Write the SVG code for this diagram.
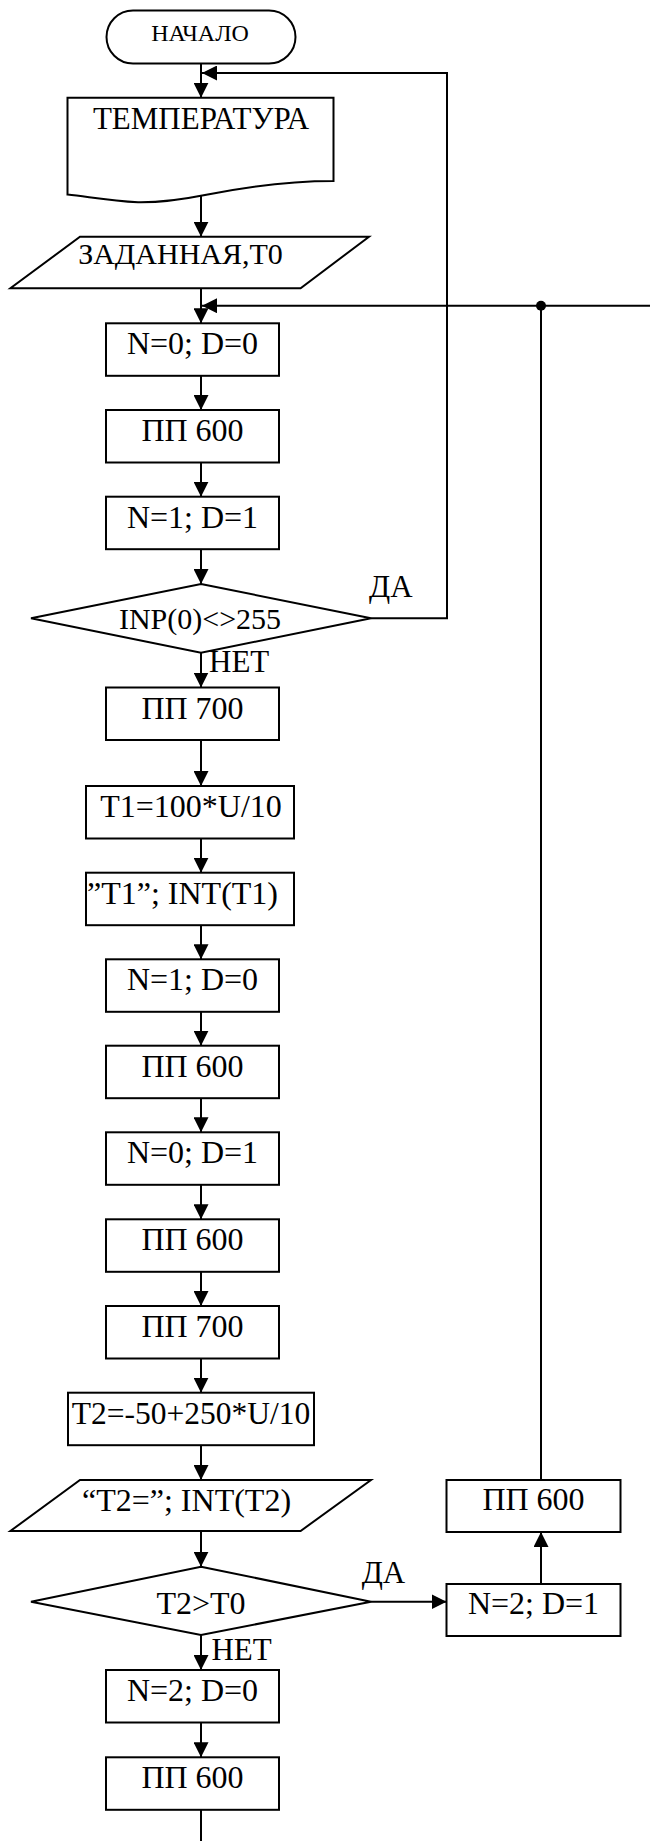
<svg xmlns="http://www.w3.org/2000/svg" width="650" height="1841" viewBox="0 0 650 1841">
<style>
.s{fill:#fff;stroke:#000;stroke-width:2}
.c{fill:none;stroke:#000;stroke-width:2}
.t{font-family:"Liberation Serif","Times New Roman",serif;font-size:32px;fill:#000;text-anchor:middle}
.l{font-family:"Liberation Serif","Times New Roman",serif;font-size:31px;fill:#000}
</style>
<defs>
<marker id="a" markerUnits="userSpaceOnUse" markerWidth="15" markerHeight="15" refX="15" refY="7.5" orient="auto">
<path d="M0,0 L15,7.5 L0,15 z" fill="#000"/>
</marker>
</defs>
<rect width="650" height="1841" fill="#fff"/>
<g id="connectors">
<line class="c" x1="201" y1="63.5" x2="201" y2="97.7" marker-end="url(#a)"/>
<polyline class="c" points="371,618.3 447,618.3 447,73 202,73" marker-end="url(#a)"/>
<line class="c" x1="201" y1="195" x2="201" y2="236.7" marker-end="url(#a)"/>
<line class="c" x1="201" y1="288.3" x2="201" y2="323.3" marker-end="url(#a)"/>
<line class="c" x1="650" y1="305.7" x2="202" y2="305.7" marker-end="url(#a)"/>
<circle cx="541" cy="305.7" r="5" fill="#000"/>
<line class="c" x1="541" y1="305.7" x2="541" y2="1480"/>
<line class="c" x1="201" y1="375.8" x2="201" y2="410" marker-end="url(#a)"/>
<line class="c" x1="201" y1="462.5" x2="201" y2="496.7" marker-end="url(#a)"/>
<line class="c" x1="201" y1="549.2" x2="201" y2="584" marker-end="url(#a)"/>
<line class="c" x1="201" y1="652.7" x2="201" y2="687.5" marker-end="url(#a)"/>
<line class="c" x1="201" y1="740" x2="201" y2="786" marker-end="url(#a)"/>
<line class="c" x1="201" y1="838.5" x2="201" y2="872.7" marker-end="url(#a)"/>
<line class="c" x1="201" y1="925.2" x2="201" y2="959.3" marker-end="url(#a)"/>
<line class="c" x1="201" y1="1011.8" x2="201" y2="1045.7" marker-end="url(#a)"/>
<line class="c" x1="201" y1="1098.2" x2="201" y2="1132.3" marker-end="url(#a)"/>
<line class="c" x1="201" y1="1184.8" x2="201" y2="1219.3" marker-end="url(#a)"/>
<line class="c" x1="201" y1="1271.8" x2="201" y2="1306" marker-end="url(#a)"/>
<line class="c" x1="201" y1="1358.5" x2="201" y2="1392.7" marker-end="url(#a)"/>
<line class="c" x1="201" y1="1445.2" x2="201" y2="1480" marker-end="url(#a)"/>
<line class="c" x1="201" y1="1531" x2="201" y2="1566.7" marker-end="url(#a)"/>
<line class="c" x1="371" y1="1601.7" x2="446.5" y2="1601.7" marker-end="url(#a)"/>
<line class="c" x1="541" y1="1584" x2="541" y2="1532" marker-end="url(#a)"/>
<line class="c" x1="201" y1="1635" x2="201" y2="1670" marker-end="url(#a)"/>
<line class="c" x1="201" y1="1722.5" x2="201" y2="1757.3" marker-end="url(#a)"/>
<line class="c" x1="201" y1="1809.8" x2="201" y2="1841"/>
<text class="l" x="369" y="596.7">ДА</text>
<text class="l" x="209" y="671.7">НЕТ</text>
<text class="l" x="361.7" y="1583.3">ДА</text>
<text class="l" x="211.4" y="1660">НЕТ</text>
</g>
<g id="start">
<rect class="s" x="106.5" y="10.5" width="189" height="53" rx="26.5"/>
<text class="t" x="200" y="40.5" style="font-size:24px">НАЧАЛО</text>
</g>
<g id="temp">
<path class="s" d="M67.5,97.7 H333.5 V181 C290,181 250,186 205,195 C175,201 152,202.5 138,202.3 C110,201 90,197 67.5,194.5 Z"/>
<text class="t" x="201" y="128.5" style="font-size:31px">ТЕМПЕРАТУРА</text>
</g>
<g id="setT0">
<polygon class="s" points="80,236.7 369,236.7 300.6,288.3 10.4,288.3"/>
<text class="t" x="180.5" y="263.5" style="font-size:30px">ЗАДАННАЯ,Т0</text>
</g>
<g id="b1"><rect class="s" x="106" y="323.3" width="173" height="52.5"/><text class="t" x="192.5" y="354.3">N=0; D=0</text></g>
<g id="b2"><rect class="s" x="106" y="410" width="173" height="52.5"/><text class="t" x="192.5" y="441">ПП 600</text></g>
<g id="b3"><rect class="s" x="106" y="496.7" width="173" height="52.5"/><text class="t" x="192.5" y="527.7">N=1; D=1</text></g>
<g id="d1"><polygon class="s" points="201,584 371,618.3 201,652.7 31,618.3"/><text class="t" x="200" y="628.8" style="font-size:30px">INP(0)&lt;&gt;255</text></g>
<g id="b4"><rect class="s" x="106" y="687.5" width="173" height="52.5"/><text class="t" x="192.5" y="718.5">ПП 700</text></g>
<g id="b5"><rect class="s" x="86" y="786" width="208" height="52.5"/><text class="t" x="191" y="817">T1=100*U/10</text></g>
<g id="b6"><rect class="s" x="86" y="872.7" width="208" height="52.5"/><text class="t" x="87" y="903.7" style="text-anchor:start">”T1”; INT(T1)</text></g>
<g id="b7"><rect class="s" x="106" y="959.3" width="173" height="52.5"/><text class="t" x="192.5" y="990.3">N=1; D=0</text></g>
<g id="b8"><rect class="s" x="106" y="1045.7" width="173" height="52.5"/><text class="t" x="192.5" y="1076.7">ПП 600</text></g>
<g id="b9"><rect class="s" x="106" y="1132.3" width="173" height="52.5"/><text class="t" x="192.5" y="1163.3">N=0; D=1</text></g>
<g id="b10"><rect class="s" x="106" y="1219.3" width="173" height="52.5"/><text class="t" x="192.5" y="1250.3">ПП 600</text></g>
<g id="b11"><rect class="s" x="106" y="1306" width="173" height="52.5"/><text class="t" x="192.5" y="1337">ПП 700</text></g>
<g id="b12"><rect class="s" x="68" y="1392.7" width="246" height="52.5"/><text class="t" x="191" y="1423.7" style="font-size:31.5px">T2=-50+250*U/10</text></g>
<g id="outT2">
<polygon class="s" points="80,1480 371,1480 300.6,1531 10.4,1531"/>
<text class="t" x="186.5" y="1511">“T2=”; INT(T2)</text>
</g>
<g id="d2"><polygon class="s" points="201,1566.7 371,1601.7 201,1635 31,1601.7"/><text class="t" x="201" y="1613.5">T2&gt;T0</text></g>
<g id="r1"><rect class="s" x="446.5" y="1584" width="174" height="52"/><text class="t" x="533.5" y="1614">N=2; D=1</text></g>
<g id="r2"><rect class="s" x="446.5" y="1480" width="174" height="52"/><text class="t" x="533.5" y="1510">ПП 600</text></g>
<g id="b13"><rect class="s" x="106" y="1670" width="173" height="52.5"/><text class="t" x="192.5" y="1701">N=2; D=0</text></g>
<g id="b14"><rect class="s" x="106" y="1757.3" width="173" height="52.5"/><text class="t" x="192.5" y="1788.3">ПП 600</text></g>
</svg>
